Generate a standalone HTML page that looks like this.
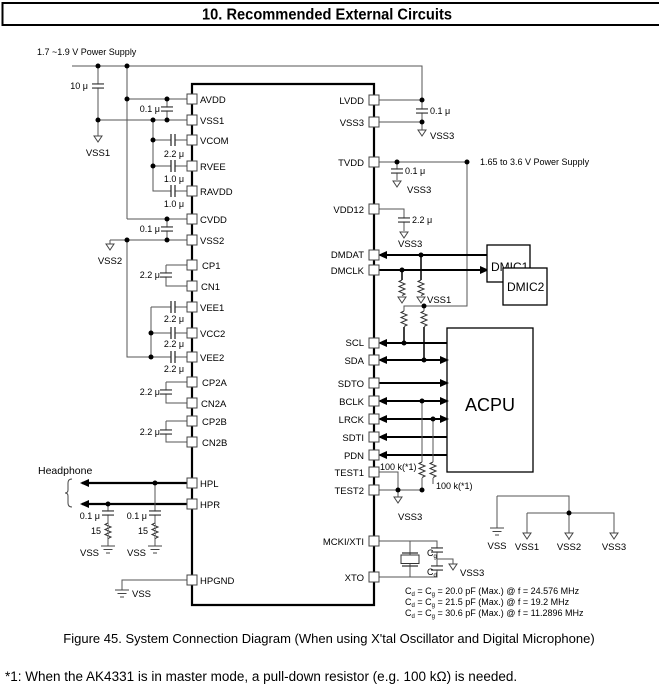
<!DOCTYPE html>
<html><head><meta charset="utf-8"><style>
html,body{margin:0;padding:0;background:#fff}
svg{display:block}
text{font-family:"Liberation Sans",Arial,sans-serif;fill:#000}
.w{stroke:#555;stroke-width:1;fill:none}
.b{stroke:#000;stroke-width:2.2;fill:none}
.p{fill:#fff;stroke:#444;stroke-width:1}
.s{font-size:9px}
.m{font-size:9.5px}
</style></head><body>
<svg width="659" height="695" viewBox="0 0 659 695" xmlns="http://www.w3.org/2000/svg">
<defs>
<marker id="a" markerWidth="9" markerHeight="8" refX="7" refY="4" orient="auto-start-reverse" markerUnits="userSpaceOnUse"><path d="M0,0 L9,4 L0,8 Z" fill="#000"/></marker>
<g id="gt"><path d="M-4,0 L4,0 L0,6 Z" fill="#fff" stroke="#444"/></g>
<g id="ge"><path d="M-7,0 H7 M-4.5,3.5 H4.5 M-2,7 H2" stroke="#444" fill="none"/></g>
<g id="cv"><path d="M-6,-2 H6 M-6,2 H6" stroke="#333" stroke-width="1.3"/><rect x="-6" y="-1.4" width="12" height="2.8" fill="#fff"/></g>
<g id="ch"><rect x="-1.5" y="-6" width="3" height="12" fill="#fff"/><path d="M-2,-6 V6 M2,-6 V6" stroke="#333" stroke-width="1.3"/></g>
<g id="rv"><path d="M0,-8 l-3,1.5 l6,2.5 l-6,2.5 l6,2.5 l-6,2.5 l6,2.5 l-3,1.5" stroke="#333" fill="#fff"/></g>
</defs>

<rect x="2.5" y="3" width="660" height="22" fill="#fff" stroke="#000" stroke-width="2"/>
<text x="327" y="19.5" text-anchor="middle" font-size="15.5" font-weight="bold" textLength="250" lengthAdjust="spacingAndGlyphs">10. Recommended External Circuits</text>

<text x="37" y="55" class="s">1.7 ~1.9 V Power Supply</text>

<path class="b" d="M192,84 H374 V605 H192 Z"/>

<path class="w" d="M72,66 H422 V122 M98,66 V136 M127,66 V219 M127,99 H192 M98,120 H192 M153,120 V191 H192 M153,140 H192 M153,166 H192 M167,99 V120 M127,219 H192 M167,219 V240 M110,240 H192 M110,240 V244 M127,240 V357 H192 M151,307 V357 M151,307 H192 M151,333 H192"/>
<use href="#cv" x="98" y="86"/>
<use href="#gt" x="98" y="136"/>
<text x="98" y="156" text-anchor="middle" class="m">VSS1</text>
<text x="88" y="89" text-anchor="end" class="s">10 μ</text>
<use href="#cv" x="167" y="109"/>
<text x="160" y="112" text-anchor="end" class="s">0.1 μ</text>
<use href="#ch" x="173" y="140"/><use href="#ch" x="173" y="166"/><use href="#ch" x="173" y="191"/>
<text x="174" y="157" text-anchor="middle" class="s">2.2 μ</text>
<text x="174" y="182" text-anchor="middle" class="s">1.0 μ</text>
<text x="174" y="207" text-anchor="middle" class="s">1.0 μ</text>
<use href="#cv" x="167" y="229"/>
<text x="160" y="232" text-anchor="end" class="s">0.1 μ</text>
<use href="#gt" x="110" y="244"/>
<text x="110" y="264" text-anchor="middle" class="m">VSS2</text>

<path class="w" d="M166,265 H192 M166,265 V286 H192 M166,382 H192 M166,382 V403 H192 M166,421 H192 M166,421 V442 H192"/>
<use href="#cv" x="166" y="275"/><use href="#cv" x="166" y="392"/><use href="#cv" x="166" y="432"/>
<text x="160" y="278" text-anchor="end" class="s">2.2 μ</text>
<text x="160" y="395" text-anchor="end" class="s">2.2 μ</text>
<text x="160" y="435" text-anchor="end" class="s">2.2 μ</text>
<use href="#ch" x="173" y="307"/><use href="#ch" x="173" y="333"/><use href="#ch" x="173" y="357"/>
<text x="174" y="322" text-anchor="middle" class="s">2.2 μ</text>
<text x="174" y="347" text-anchor="middle" class="s">2.2 μ</text>
<text x="174" y="372" text-anchor="middle" class="s">2.2 μ</text>

<text x="38" y="474" font-size="10.5">Headphone</text>
<path d="M72,479 q-4,0 -4,4 v7 q0,3 -3,3 q3,0 3,3 v7 q0,4 4,4" stroke="#444" fill="none"/>
<path d="M192,483 H82" stroke="#000" stroke-width="2.2" marker-end="url(#a)"/>
<path d="M192,504 H82" stroke="#000" stroke-width="2.2" marker-end="url(#a)"/>
<path class="w" d="M155,483 V546 M108,504 V546 M192,580 H122 V590"/>
<use href="#cv" x="155" y="513"/><use href="#cv" x="108" y="513"/>
<use href="#rv" x="155" y="531"/><use href="#rv" x="108" y="531"/>
<use href="#ge" x="155" y="546"/><use href="#ge" x="108" y="546"/>
<use href="#ge" x="122" y="590"/>
<text x="147" y="519" text-anchor="end" class="s">0.1 μ</text>
<text x="100" y="519" text-anchor="end" class="s">0.1 μ</text>
<text x="148" y="534" text-anchor="end" class="s">15</text>
<text x="101" y="534" text-anchor="end" class="s">15</text>
<text x="146" y="556" text-anchor="end" class="m">VSS</text>
<text x="99" y="556" text-anchor="end" class="m">VSS</text>
<text x="132" y="597" class="m">VSS</text>

<path class="w" d="M374,100 H422 M374,122 H422 V130 M374,162 H467 M397,162 V180 M374,209 H404 V231 M467,162 V306 H404 V311 M424,306 V311"/>
<use href="#cv" x="422" y="111"/>
<text x="430" y="114" class="s">0.1 μ</text>
<use href="#gt" x="422" y="130"/>
<text x="430" y="139" class="m">VSS3</text>
<text x="480" y="165" class="s">1.65 to 3.6 V Power Supply</text>
<use href="#cv" x="397" y="171"/>
<text x="405" y="174" class="s">0.1 μ</text>
<use href="#gt" x="397" y="181"/>
<text x="407" y="193" class="m">VSS3</text>
<use href="#cv" x="404" y="220"/>
<text x="412" y="223" class="s">2.2 μ</text>
<use href="#gt" x="404" y="232"/>
<text x="398" y="247" class="m">VSS3</text>

<path d="M487,255 H380" stroke="#000" stroke-width="2" marker-end="url(#a)"/>
<path d="M374,270 H487" stroke="#000" stroke-width="2" marker-end="url(#a)"/>
<path stroke="#000" stroke-width="1.5" fill="none" d="M421,255 V280 M402,270 V280"/>
<use href="#rv" x="421" y="288"/><use href="#rv" x="402" y="288"/>
<use href="#gt" x="421" y="297"/><use href="#gt" x="402" y="297"/>
<text x="427" y="303" class="m">VSS1</text>
<rect x="487" y="245" width="43" height="37" fill="#fff" stroke="#000" stroke-width="1.3"/>
<text x="491" y="271" font-size="12">DMIC1</text>
<rect x="503" y="268" width="44" height="37" fill="#fff" stroke="#000" stroke-width="1.3"/>
<text x="507" y="291" font-size="12">DMIC2</text>

<use href="#rv" x="404" y="319"/><use href="#rv" x="424" y="319"/>
<path stroke="#000" stroke-width="1.5" fill="none" d="M404,327 V343 M424,327 V360"/>

<rect x="447" y="328" width="86" height="144" fill="#fff" stroke="#000" stroke-width="1.3"/>
<text x="490" y="411" font-size="18" text-anchor="middle">ACPU</text>
<g stroke="#000" stroke-width="2" fill="none">
<path d="M447,343 H380" marker-end="url(#a)"/>
<path d="M380,360 H447" marker-start="url(#a)" marker-end="url(#a)"/>
<path d="M374,383 H447" marker-end="url(#a)"/>
<path d="M380,401 H447" marker-start="url(#a)" marker-end="url(#a)"/>
<path d="M380,419 H447" marker-start="url(#a)" marker-end="url(#a)"/>
<path d="M447,437 H380" marker-end="url(#a)"/>
<path d="M447,455 H380" marker-end="url(#a)"/>
</g>
<path class="w" d="M422,401 V462 M433,419 V462 M422,478 V490 M433,478 V484 M374,472 H398 V497 M374,490 H422"/>
<use href="#rv" x="422" y="470"/><use href="#rv" x="433" y="470"/>
<use href="#gt" x="398" y="497"/>
<text x="380" y="470" class="s">100 k(*1)</text>
<text x="436" y="489" class="s">100 k(*1)</text>
<text x="398" y="520" class="m">VSS3</text>

<path class="w" d="M497,496 H569 V540 M497,496 V528 M527,513 H614 V533 M527,513 V533"/>
<use href="#ge" x="497" y="528"/>
<use href="#gt" x="527" y="533"/><use href="#gt" x="569" y="533"/><use href="#gt" x="614" y="533"/>
<text x="497" y="549" text-anchor="middle" class="m">VSS</text>
<text x="527" y="550" text-anchor="middle" class="m">VSS1</text>
<text x="569" y="550" text-anchor="middle" class="m">VSS2</text>
<text x="614" y="550" text-anchor="middle" class="m">VSS3</text>

<path class="w" d="M374,541 H437 V577 H374 M410,541 V577 M437,559 H453 V564"/>
<path d="M402,553 H418 M402,566 H418" stroke="#333" stroke-width="1.3"/>
<rect x="401" y="555" width="18" height="8.5" fill="#fff" stroke="#333"/>
<use href="#cv" x="437" y="550"/><use href="#cv" x="437" y="568"/>
<use href="#gt" x="453" y="564"/>
<text x="427" y="556" class="s">C<tspan font-size="6" dy="2">g</tspan></text>
<text x="427" y="575" class="s">C<tspan font-size="6" dy="2">d</tspan></text>
<text x="460" y="576" class="m">VSS3</text>
<text x="405" y="594" class="s">C<tspan font-size="6" dy="2">d</tspan><tspan dy="-2"> = C</tspan><tspan font-size="6" dy="2">g</tspan><tspan dy="-2"> = 20.0 pF (Max.) @ f = 24.576 MHz</tspan></text>
<text x="405" y="605" class="s">C<tspan font-size="6" dy="2">d</tspan><tspan dy="-2"> = C</tspan><tspan font-size="6" dy="2">g</tspan><tspan dy="-2"> = 21.5 pF (Max.) @ f = 19.2 MHz</tspan></text>
<text x="405" y="616" class="s">C<tspan font-size="6" dy="2">d</tspan><tspan dy="-2"> = C</tspan><tspan font-size="6" dy="2">g</tspan><tspan dy="-2"> = 30.6 pF (Max.) @ f = 11.2896 MHz</tspan></text>

<g fill="#000">
<circle cx="98" cy="66" r="2.5"/><circle cx="127" cy="66" r="2.5"/><circle cx="127" cy="99" r="2.5"/><circle cx="167" cy="99" r="2.5"/>
<circle cx="98" cy="120" r="2.5"/><circle cx="153" cy="120" r="2.5"/><circle cx="167" cy="120" r="2.5"/><circle cx="153" cy="140" r="2.5"/><circle cx="153" cy="166" r="2.5"/>
<circle cx="167" cy="219" r="2.5"/><circle cx="127" cy="240" r="2.5"/><circle cx="167" cy="240" r="2.5"/>
<circle cx="151" cy="333" r="2.5"/><circle cx="151" cy="357" r="2.5"/>
<circle cx="155" cy="483" r="2.5"/><circle cx="108" cy="504" r="2.5"/>
<circle cx="422" cy="100" r="2.5"/><circle cx="422" cy="122" r="2.5"/><circle cx="397" cy="162" r="2.5"/><circle cx="467" cy="162" r="2.5"/>
<circle cx="421" cy="255" r="2.5"/><circle cx="402" cy="270" r="2.5"/><circle cx="424" cy="306" r="2.5"/>
<circle cx="404" cy="343" r="2.5"/><circle cx="424" cy="360" r="2.5"/><circle cx="422" cy="401" r="2.5"/><circle cx="433" cy="419" r="2.5"/>
<circle cx="398" cy="490" r="2.5"/><circle cx="422" cy="490" r="2.5"/><circle cx="569" cy="513" r="2.5"/>
</g>

<g class="p">
<rect x="187" y="94" width="10" height="10"/><rect x="187" y="115" width="10" height="10"/><rect x="187" y="135" width="10" height="10"/>
<rect x="187" y="161" width="10" height="10"/><rect x="187" y="186" width="10" height="10"/><rect x="187" y="214" width="10" height="10"/>
<rect x="187" y="235" width="10" height="10"/><rect x="187" y="260" width="10" height="10"/><rect x="187" y="281" width="10" height="10"/>
<rect x="187" y="302" width="10" height="10"/><rect x="187" y="328" width="10" height="10"/><rect x="187" y="352" width="10" height="10"/>
<rect x="187" y="377" width="10" height="10"/><rect x="187" y="398" width="10" height="10"/><rect x="187" y="416" width="10" height="10"/>
<rect x="187" y="437" width="10" height="10"/><rect x="187" y="478" width="10" height="10"/><rect x="187" y="499" width="10" height="10"/>
<rect x="187" y="575" width="10" height="10"/>
<rect x="369" y="95" width="10" height="10"/><rect x="369" y="117" width="10" height="10"/><rect x="369" y="157" width="10" height="10"/>
<rect x="369" y="204" width="10" height="10"/><rect x="369" y="250" width="10" height="10"/><rect x="369" y="265" width="10" height="10"/>
<rect x="369" y="338" width="10" height="10"/><rect x="369" y="355" width="10" height="10"/><rect x="369" y="378" width="10" height="10"/>
<rect x="369" y="396" width="10" height="10"/><rect x="369" y="414" width="10" height="10"/><rect x="369" y="432" width="10" height="10"/>
<rect x="369" y="450" width="10" height="10"/><rect x="369" y="467" width="10" height="10"/><rect x="369" y="485" width="10" height="10"/>
<rect x="369" y="536" width="10" height="10"/><rect x="369" y="572" width="10" height="10"/>
</g>
<g class="m">
<text x="200" y="103">AVDD</text><text x="200" y="124">VSS1</text><text x="200" y="144">VCOM</text>
<text x="200" y="170">RVEE</text><text x="200" y="195">RAVDD</text><text x="200" y="223">CVDD</text>
<text x="200" y="244">VSS2</text><text x="202" y="269">CP1</text><text x="201" y="290">CN1</text>
<text x="200" y="311">VEE1</text><text x="200" y="337">VCC2</text><text x="200" y="361">VEE2</text>
<text x="202" y="386">CP2A</text><text x="201" y="407">CN2A</text><text x="202" y="425">CP2B</text>
<text x="202" y="446">CN2B</text><text x="200" y="487">HPL</text><text x="200" y="508">HPR</text>
<text x="200" y="584">HPGND</text>
</g>
<g class="m" text-anchor="end">
<text x="364" y="104">LVDD</text><text x="364" y="126">VSS3</text><text x="364" y="166">TVDD</text>
<text x="364" y="213">VDD12</text><text x="364" y="258">DMDAT</text><text x="364" y="274">DMCLK</text>
<text x="364" y="346">SCL</text><text x="364" y="364">SDA</text><text x="364" y="387">SDTO</text>
<text x="364" y="405">BCLK</text><text x="364" y="423">LRCK</text><text x="364" y="441">SDTI</text>
<text x="364" y="459">PDN</text><text x="364" y="476">TEST1</text><text x="364" y="494">TEST2</text>
<text x="364" y="545">MCKI/XTI</text><text x="364" y="581">XTO</text>
</g>

<text x="329" y="643" text-anchor="middle" font-size="13">Figure 45. System Connection Diagram (When using X'tal Oscillator and Digital Microphone)</text>
<text x="5" y="681" font-size="13.5">*1: When the AK4331 is in master mode, a pull-down resistor (e.g. 100 kΩ) is needed.</text>
</svg>
</body></html>
